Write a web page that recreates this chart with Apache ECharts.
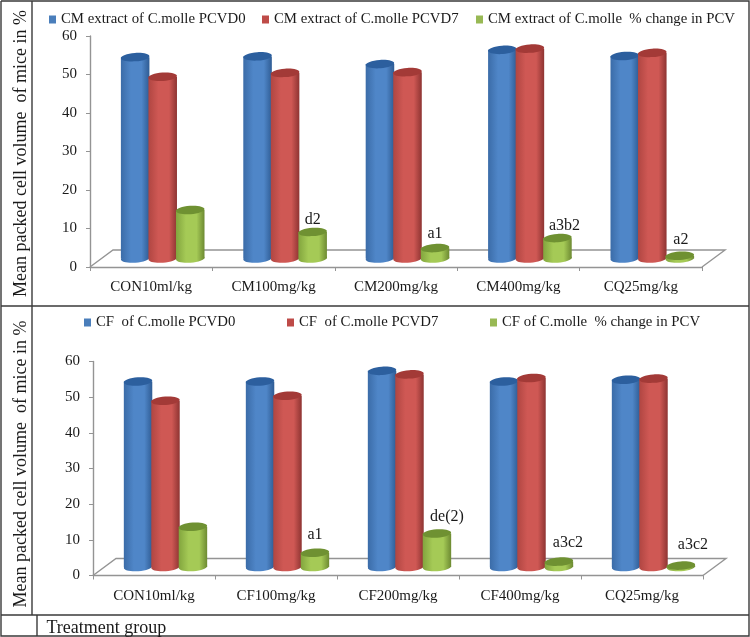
<!DOCTYPE html>
<html>
<head>
<meta charset="utf-8">
<style>html,body{margin:0;padding:0;background:#fff}#c{width:750px;height:637px}</style>
<script src="https://cdn.jsdelivr.net/npm/echarts@6/dist/echarts.min.js"></script>
</head>
<body>
<div id="c"></div>
<script>
const catsTop = ['CON10ml/kg','CM100mg/kg','CM200mg/kg','CM400mg/kg','CQ25mg/kg'];
const catsBottom = ['CON10ml/kg','CF100mg/kg','CF200mg/kg','CF400mg/kg','CQ25mg/kg'];
const topD0 = [52.3,52.5,50.5,54.2,52.6];
const topD7 = [47.2,48.2,48.4,54.5,53.4];
const topChange = [12.6,6.9,2.7,5.3,0.7];
const topNotes = ['','d2','a1','a3b2','a2'];
const botD0 = [52.0,52.0,55.0,52.0,52.5];
const botD7 = [46.6,48.0,54.0,53.0,52.8];
const botChange = [11.3,4.0,9.4,1.5,0.4];
const botNotes = ['','a1','de(2)','a3c2','a3c2'];
const yTicks = {min:0,max:60,interval:10};
const yTitle = 'Mean packed cell volume  of mice in %';

const FONT = '"Liberation Serif","Times New Roman",serif';
const TXT = '#1a1a1a', AXIS = '#949494';
const DX = 23, DY = 17;            // depth of the 3D floor
const pal = [
  {left:'#3b6ca8',edge:'#2f5c94',mid:'#4f86c8',cap:'#2c5f9e',flat:'#4a7ebb'},
  {left:'#b04642',edge:'#8e3432',mid:'#cf5854',cap:'#a33a37',flat:'#be4b48'},
  {left:'#82a53e',edge:'#6d8a32',mid:'#a5ca56',cap:'#6f9132',flat:'#98b954'}
];
const barGrad = p => new echarts.graphic.LinearGradient(0,0,1,0,[
  {offset:0,color:p.left},{offset:.35,color:p.mid},{offset:.72,color:p.mid},{offset:1,color:p.edge}]);

function cylinder(k, notes, nudgeX, nudgeY){
  return function(params, api){
    const i = api.value(0), v = api.value(1);
    const band = api.size([1,0])[0];
    const w = band*0.225, rx = w/2+0.5, ry = 4.2, tilt = 0.07;
    const base = api.coord([i,0]), top = api.coord([i,v]);
    const cx = base[0] + DX/2 + (k-1)*w;
    const y0 = base[1] - DY/2, y1 = top[1] - DY/2;
    const fill = barGrad(pal[k]);
    const kids = [
      {type:'ellipse',shape:{cx:cx,cy:y0,rx:rx,ry:ry},rotation:tilt,originX:cx,originY:y0,style:{fill:fill}},
      {type:'rect',shape:{x:cx-rx,y:y1,width:rx*2,height:y0-y1},style:{fill:fill}},
      {type:'ellipse',shape:{cx:cx,cy:y1,rx:rx,ry:ry},rotation:tilt,originX:cx,originY:y1,style:{fill:pal[k].cap}}
    ];
    if(notes && notes[i]){
      kids.push({type:'text',style:{text:notes[i],x:cx+nudgeX[i],y:y1-nudgeY[i],
        align:'center',verticalAlign:'middle',font:'16px '+FONT,fill:TXT}});
    }
    return {type:'group',children:kids};
  };
}
function floorItem(params, api){
  const band = api.size([1,0])[0];
  const a = api.coord([0,0]), n = api.coord([4,0]);
  const l = a[0]-band/2, r = n[0]+band/2, y = a[1];
  return {type:'polyline',shape:{points:[[l,y],[l+DX,y-DY],[r+DX,y-DY],[r,y]]},
    style:{fill:null,stroke:AXIS,lineWidth:1.4}};
}
function series(axis, names, vals, notes, nx, ny){
  const out = [{type:'custom',name:'floor'+axis,xAxisIndex:axis,yAxisIndex:axis,silent:true,
    renderItem:floorItem,data:[[0,0]],z:1}];
  names.forEach((nm,k)=>{
    out.push({type:'custom',name:nm,xAxisIndex:axis,yAxisIndex:axis,z:2+k,
      itemStyle:{color:pal[k].flat},
      renderItem:cylinder(k,k===2?notes:null,nx,ny),
      data:vals[k].map((v,i)=>[i,v])});
  });
  return out;
}
const topNames = ['CM extract of C.molle PCVD0','CM extract of C.molle PCVD7','CM extract of C.molle  % change in PCV'];
const botNames = ['CF  of C.molle PCVD0','CF  of C.molle PCVD7','CF of C.molle  % change in PCV'];
const legend = (name,left,top)=>({data:[name],left:left,top:top,icon:'rect',itemWidth:7,itemHeight:8,
  padding:0,selectedMode:false,textStyle:{fontFamily:FONT,fontSize:14.8,color:TXT}});
const xAx = (cats,g)=>({type:'category',gridIndex:g,data:cats,
  axisLine:{lineStyle:{color:AXIS,width:1.4}},axisTick:{show:true,alignWithLabel:false,length:4,lineStyle:{color:AXIS}},
  axisLabel:{interval:0,fontFamily:FONT,fontSize:15,color:TXT,margin:13},splitLine:{show:false}});
const yAx = (g,pad)=>Object.assign({type:'value',gridIndex:g,
  axisLine:{show:true,lineStyle:{color:AXIS,width:1.4}},axisTick:{show:true,length:4,lineStyle:{color:AXIS}},
  axisLabel:{fontFamily:FONT,fontSize:15,color:TXT,margin:13,padding:[3,0,0,0]},splitLine:{show:false},
  name:yTitle,nameLocation:'middle',nameRotate:90,nameGap:60+(g?3:0),
  nameTextStyle:{fontFamily:FONT,fontSize:18,color:TXT,padding:pad}},yTicks);
const frame = (pts)=>({type:'polyline',shape:{points:pts},style:{fill:null,stroke:'#3a3a3a',lineWidth:1.4},silent:true,z:0});

const chart = echarts.init(document.getElementById('c'));
chart.setOption({
  animation:false,
  backgroundColor:'#fff',
  grid:[{left:90,top:36,width:612,height:231},{left:93,top:361.5,width:610,height:214}],
  xAxis:[xAx(catsTop,0),xAx(catsBottom,1)],
  yAxis:[yAx(0,[0,4,0,0]),yAx(1,[0,0,0,9])],
  legend:[
    legend(topNames[0],49,12),legend(topNames[1],262,12),legend(topNames[2],476,12),
    legend(botNames[0],84,315),legend(botNames[1],287,315),legend(botNames[2],490,315)
  ],
  graphic:[
    frame([[1,1],[749,1],[749,636],[1,636],[1,1]]),
    frame([[1,306],[749,306]]),
    frame([[1,615],[749,615]]),
    frame([[32,1],[32,615]]),
    frame([[37,615],[37,636]]),
    {type:'text',left:46.5,top:619,style:{text:'Treatment group',font:'18px '+FONT,fill:TXT}}
  ],
  series:[
    ...series(0,topNames,[topD0,topD7,topChange],topNotes,[0,0,0,7,1],[0,12,14,12,16]),
    ...series(1,botNames,[botD0,botD7,botChange],botNotes,[0,0,10,9,12],[0,18,17,19,21])
  ]
});
</script>
</body>
</html>
